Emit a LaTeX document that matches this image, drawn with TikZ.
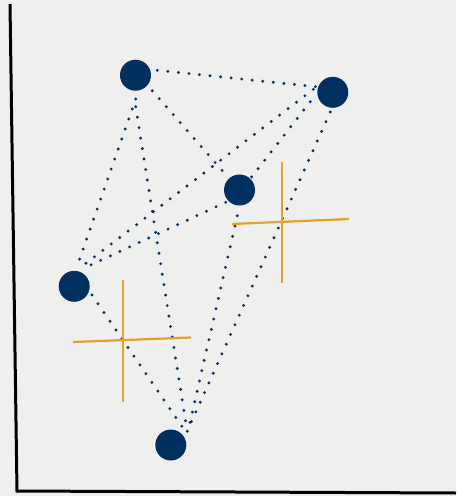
\documentclass[tikz,border=0pt]{standalone}
\usetikzlibrary{calc}
\begin{document}
\begin{tikzpicture}[x=1pt,y=-1pt,
  vert/.style={circle,fill=navy,minimum size=31pt,inner sep=0pt,outer sep=0pt},
  edge/.style={navy,line width=3.2pt,line cap=round,dash pattern=on 0pt off 10.6pt},
  crossline/.style={gold,line width=2.2pt},
  axis/.style={black,line width=3pt}]
\definecolor{navy}{RGB}{0,48,96}
\definecolor{gold}{RGB}{228,160,44}
\definecolor{bg}{RGB}{239,239,237}
\fill[bg] (0,0) rectangle (456,496);
\useasboundingbox (0,0) rectangle (456,496);
% axes
\coordinate (ytop) at (10,4);
\coordinate (orig) at (17,491);
\coordinate (xend) at (456,493);
\draw[axis] (ytop) -- (orig) -- (xend);
% vertices
\node[vert] (A) at (135.5,75.2) {};
\node[vert] (B) at (332.8,92.3) {};
\node[vert] (C) at (239.5,190) {};
\node[vert] (D) at (74.2,286.3) {};
\node[vert] (E) at (170.8,445) {};
% edges (sketchy endpoints offset from the vertex centres)
\draw[edge] ($(A)+(21.8,-4.9)$) -- ($(B)+(-16.8,-5.6)$);
\draw[edge] ($(A)+(16.8,15.5)$) -- ($(C)+(-17.2,-19.3)$);
\draw[edge] ($(A)+(0.2,23.8)$) -- ($(D)+(5.1,-26.3)$);
\draw[edge] ($(A)+(0.2,31.5)$) -- ($(E)+(16.5,-13)$);
\draw[edge] ($(B)+(-22.5,9.4)$) -- ($(C)+(11.5,-12.3)$);
\draw[edge] ($(B)+(-19.5,-3)$) -- ($(D)+(10.5,-22)$);
\draw[edge] ($(B)+(-2.5,19.7)$) -- ($(E)+(17,-15)$);
\draw[edge] ($(C)+(-13.8,12.3)$) -- ($(D)+(15.8,-21)$);
\draw[edge] ($(C)+(-2.2,25.7)$) -- ($(E)+(17,-13)$);
\draw[edge] ($(D)+(17.8,8.7)$) -- ($(E)+(15,-13)$);
% crosses
\coordinate (c1t) at (282,162);
\coordinate (c1b) at (282,283);
\coordinate (c1l) at (232,224);
\coordinate (c1r) at (349,219);
\draw[crossline] (c1t) -- (c1b);
\draw[crossline] (c1l) -- (c1r);
\coordinate (c2t) at (123,280);
\coordinate (c2b) at (123,402);
\coordinate (c2l) at (73,342);
\coordinate (c2r) at (191,337.5);
\draw[crossline] (c2t) -- (c2b);
\draw[crossline] (c2l) -- (c2r);
\end{tikzpicture}
\end{document}
